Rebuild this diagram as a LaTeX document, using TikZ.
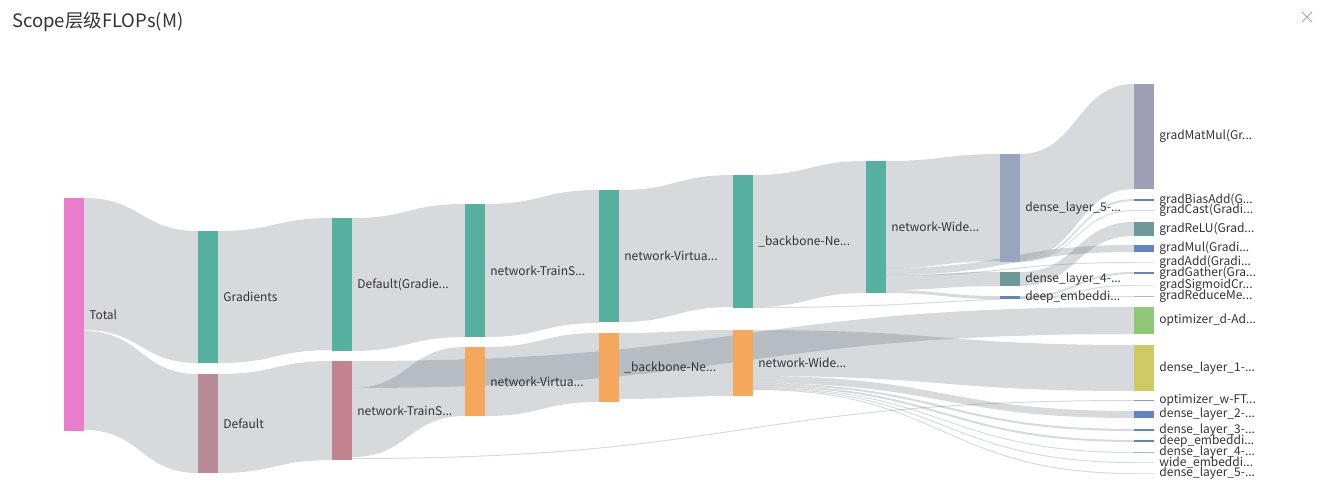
\documentclass[tikz,border=0pt]{standalone}
\usepackage{fontspec}
\setmainfont{Noto Sans CJK SC}
\usepackage{tikz}
\usetikzlibrary{calc,backgrounds}

\definecolor{txt}{HTML}{333333}
\definecolor{linkc}{HTML}{314656}
\definecolor{pinkT}{HTML}{EA7CCC}
\definecolor{tealN}{HTML}{56B1A1}
\definecolor{mauveD}{HTML}{B88A98}
\definecolor{roseT}{HTML}{C2838F}
\definecolor{orangeN}{HTML}{F5A85B}
\definecolor{slateD}{HTML}{97A5BF}
\definecolor{tealG}{HTML}{6E9B99}
\definecolor{blueN}{HTML}{6384BE}
\definecolor{lilacM}{HTML}{A09EB5}
\definecolor{greenO}{HTML}{8FC876}
\definecolor{oliveD}{HTML}{CFC966}
\definecolor{paleA}{HTML}{C9D3E6}
\definecolor{paleB}{HTML}{DDE3EE}
\definecolor{paleC}{HTML}{A9B8D8}

\tikzset{
  flopbar/.style={rectangle, draw=none, inner sep=0pt, minimum width=20pt},
  lab/.style={text=txt, font=\fontsize{12}{13}\selectfont, inner sep=0pt},
  flowband/.style={fill=linkc, fill opacity=0.2, draw=none},
}

\newcommand\flopnode[6]{\node[flopbar, fill=#5, minimum height={#4-#3}, label={[lab]right:#6}] (#1) at ({#2+10},{(#3+#4)/2}) {};}

\newcommand\flow[6]{%
  \path[flowband] let \p1=(#1.east), \p2=(#4.west), \n1={(\x1+\x2)/2} in
    (\x1,-#2pt) .. controls (\n1,-#2pt) and (\n1,-#5pt) .. (\x2,-#5pt)
    -- (\x2,-#6pt) .. controls (\n1,-#6pt) and (\n1,-#3pt) .. (\x1,-#3pt) -- cycle;}

\begin{document}
\begin{tikzpicture}[x=1pt,y=-1pt,label distance=5pt]
\useasboundingbox (0,0) rectangle (1319,498);

\node[text=txt, font=\fontsize{18.5}{21}\selectfont, anchor=west, inner sep=0pt] (title) at (12,22) {Scope层级FLOPs(M)};
\draw[black!35, line width=0.9pt] (1302,12) -- (1312,22) (1302,22) -- (1312,12);

\flopnode{total}{64}{198}{431}{pinkT}{Total}
\flopnode{gradients}{198}{231}{363}{tealN}{Gradients}
\flopnode{default}{198}{374}{473}{mauveD}{Default}
\flopnode{defgrad}{332}{218}{351}{tealN}{Default(Gradie...}
\flopnode{trainsA}{332}{361}{460}{roseT}{network-TrainS...}
\flopnode{trainsB}{465}{204}{337}{tealN}{network-TrainS...}
\flopnode{virtA}{465}{347}{416}{orangeN}{network-Virtua...}
\flopnode{virtB}{599}{190}{322}{tealN}{network-Virtua...}
\flopnode{backA}{599}{333}{402}{orangeN}{\_backbone-Ne...}
\flopnode{backB}{733}{175}{308}{tealN}{\_backbone-Ne...}
\flopnode{wideA}{733}{330}{396}{orangeN}{network-Wide...}
\flopnode{wideB}{866}{161}{293}{tealN}{network-Wide...}
\flopnode{dfive}{1000}{154}{262}{slateD}{dense\_layer\_5-...}
\flopnode{dfour}{1000}{272}{286}{tealG}{dense\_layer\_4-...}
\flopnode{demb}{1000}{296}{299}{blueN}{deep\_embeddi...}
\flopnode{matmul}{1134}{84}{189}{lilacM}{gradMatMul(Gr...}
\flopnode{biasadd}{1134}{199}{201}{blueN}{gradBiasAdd(G...}
\flopnode{cast}{1134}{210}{211}{paleA}{gradCast(Gradi...}
\flopnode{relu}{1134}{222}{236}{tealG}{gradReLU(Grad...}
\flopnode{mul}{1134}{245}{252}{blueN}{gradMul(Gradi...}
\flopnode{add}{1134}{262}{263}{paleB}{gradAdd(Gradi...}
\flopnode{gather}{1134}{272}{274}{blueN}{gradGather(Gra...}
\flopnode{sigmoid}{1134}{285}{286}{paleB}{gradSigmoidCr...}
\flopnode{reduce}{1134}{296}{297}{paleC}{gradReduceMe...}
\flopnode{optd}{1134}{307}{334}{greenO}{optimizer\_d-Ad...}
\flopnode{done}{1134}{345}{391}{oliveD}{dense\_layer\_1-...}
\flopnode{optw}{1134}{400}{401}{blueN!80}{optimizer\_w-FT...}
\flopnode{dtwo}{1134}{411}{418}{blueN}{dense\_layer\_2-...}
\flopnode{dthree}{1134}{429}{431}{blueN}{dense\_layer\_3-...}
\flopnode{dembb}{1134}{440}{442}{blueN}{deep\_embeddi...}
\flopnode{dfourb}{1134}{452}{453}{paleC}{dense\_layer\_4-...}
\flopnode{wideemb}{1134}{462}{463}{paleB}{wide\_embeddi...}
\flopnode{dfiveb}{1134}{473}{474}{paleB}{dense\_layer\_5-...}

\begin{pgfonlayer}{background}
\flow{total}{198}{330}{gradients}{231}{363}
\flow{total}{331}{430}{default}{374}{473}
\flow{gradients}{231}{363}{defgrad}{218}{350}
\flow{default}{374}{473}{trainsA}{361}{460}
\flow{defgrad}{218}{351}{trainsB}{204}{337}
\flow{trainsB}{204}{337}{virtB}{190}{323}
\flow{virtB}{190}{322}{backB}{175}{307}
\flow{backB}{175}{307}{wideB}{161}{293}
\flow{backB}{307}{308}{reduce}{296}{297}
\flow{trainsA}{361}{388}{optd}{307}{334}
\flow{trainsA}{388}{457}{virtA}{347}{416}
\flow{trainsA}{458}{459}{optw}{400}{401}
\flow{virtA}{347}{416}{backA}{333}{402}
\flow{backA}{333}{399}{wideA}{330}{396}
\flow{wideA}{330}{376}{done}{345}{391}
\flow{wideA}{376}{383}{dtwo}{411}{418}
\flow{wideA}{383}{385}{dthree}{429}{431}
\flow{wideA}{385}{387}{dembb}{440}{442}
\flow{wideA}{387}{388}{dfourb}{452}{453}
\flow{wideA}{388}{389}{wideemb}{462}{463}
\flow{wideA}{389}{390}{dfiveb}{473}{474}
\flow{wideB}{161}{268}{dfive}{154}{261}
\flow{wideB}{268}{275}{mul}{245}{252}
\flow{wideB}{275}{276}{add}{262}{263}
\flow{wideB}{276}{290}{dfour}{272}{286}
\flow{wideB}{290}{293}{demb}{296}{299}
\flow{dfive}{154}{259}{matmul}{84}{189}
\flow{dfive}{259}{261}{biasadd}{199}{201}
\flow{dfive}{261}{262}{cast}{210}{211}
\flow{dfour}{272}{286}{relu}{222}{236}
\flow{demb}{296}{298}{gather}{272}{274}
\flow{demb}{298}{299}{sigmoid}{285}{286}
\end{pgfonlayer}
\end{tikzpicture}
\end{document}
